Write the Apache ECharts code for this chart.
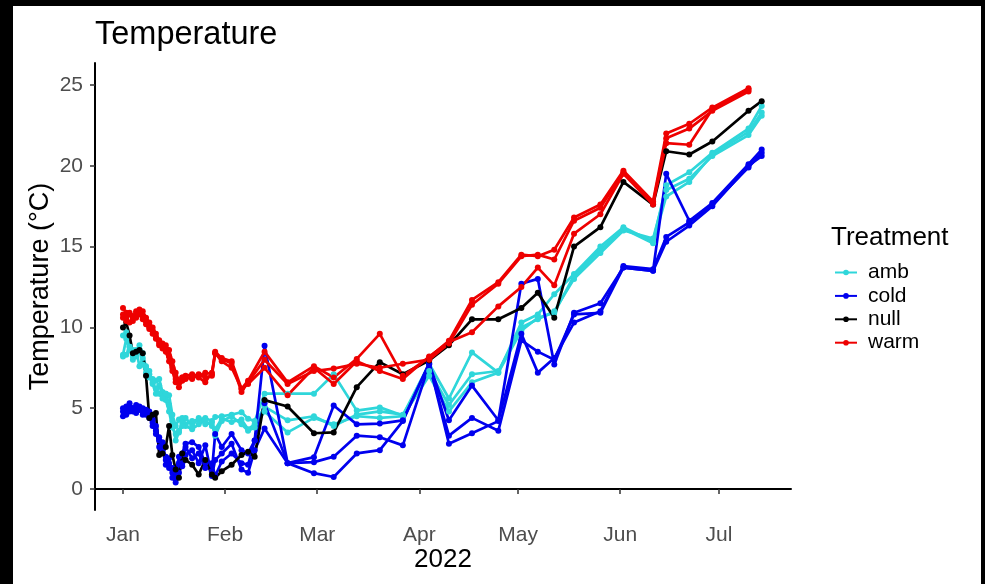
<!DOCTYPE html>
<html>
<head>
<meta charset="utf-8">
<script src="https://cdn.jsdelivr.net/npm/echarts@6/dist/echarts.min.js"></script>
<style>
  html, body { margin: 0; padding: 0; background: #000; }
  #panel { position: absolute; left: 13px; top: 6px; width: 968px; height: 578px; background: #fff; }
  #chart { position: absolute; left: 0; top: 0; width: 985px; height: 584px; }
</style>
</head>
<body>
<div id="panel"></div>
<div id="chart"></div>
<script>
// Sampling dates (daily logging in early January, then roughly weekly)
const dates = [
  '2022-01-01','2022-01-02','2022-01-03','2022-01-04','2022-01-05','2022-01-06','2022-01-07','2022-01-08','2022-01-09','2022-01-10',
  '2022-01-11','2022-01-12','2022-01-13','2022-01-14','2022-01-15','2022-01-16','2022-01-17','2022-01-18','2022-01-19','2022-01-20',
  '2022-01-22','2022-01-24','2022-01-26','2022-01-28','2022-01-29','2022-01-31','2022-02-03','2022-02-06','2022-02-08','2022-02-10',
  '2022-02-13','2022-02-20','2022-02-28','2022-03-06','2022-03-13','2022-03-20','2022-03-27','2022-04-04','2022-04-10','2022-04-17',
  '2022-04-25','2022-05-02','2022-05-07','2022-05-12','2022-05-18','2022-05-26','2022-06-02','2022-06-11','2022-06-15','2022-06-22',
  '2022-06-29','2022-07-10','2022-07-14'
];

// Temperature (°C) per replicate
const amb1 = [9.5,9.7,8.8,8.6,8.5,8.9,8.4,7.5,7.1,6.8, 6.7,6.8,6.0,5.9,5.8,4.6,3.9,4.3,4.4,4.0,
  4.2,4.3,4.4,4.2,4.45,4.5,4.6,4.75,4.35,4.2,
  5.9,5.9,5.9,7.1,4.85,5.05,4.55,7.75,5.6,8.45, 7.2,10.3,10.8,12.05,13.3,15.0,16.2,15.3,18.8,19.6, 20.8,22.3,23.7];
const amb2 = [8.3,9.3,8.6,8.2,8.6,7.6,8.1,7.6,7.3,6.5, 5.9,6.4,5.8,5.5,4.8,3.8,3.4,3.6,4.1,3.9,
  3.7,4.0,4.25,3.9,3.7,4.35,4.15,4.3,3.7,4.0,
  5.1,4.25,4.5,3.9,4.6,4.8,4.6,7.3,5.2,7.1, 7.3,10.0,10.5,11.0,13.0,14.6,16.0,15.5,18.5,19.2, 20.6,21.9,23.1];
const amb3 = [8.2,8.3,8.8,8.0,8.2,8.6,7.7,7.2,6.9,6.6, 6.2,5.9,5.6,5.9,5.2,4.2,3.0,3.5,3.9,4.4,
  3.9,4.4,4.0,4.1,3.3,4.2,4.5,4.0,3.6,3.8,
  4.8,3.5,4.4,4.0,4.5,4.4,4.5,7.0,4.8,6.6, 7.2,9.8,10.6,10.9,13.2,14.8,16.1,15.2,18.1,19.0, 20.7,22.1,23.3];

const cold1 = [4.8,5.1,5.3,5.0,4.9,5.1,5.0,4.7,4.8,4.1, 3.9,3.0,2.7,1.8,1.6,1.3,0.6,1.6,2.2,2.8,
  2.9,2.6,1.6,1.1,3.4,2.6,3.4,2.4,2.2,3.0,
  8.86,1.6,1.97,5.17,4.0,4.05,4.25,7.75,4.25,6.4, 4.25,12.7,13.0,7.7,10.9,11.5,13.7,13.5,19.5,16.6, 17.7,20.1,21.0];
const cold2 = [4.5,4.9,4.8,5.0,4.7,4.9,4.8,4.6,4.4,4.3, 3.4,3.2,2.4,2.0,1.3,1.0,0.4,1.0,1.6,2.1,
  2.4,1.6,2.7,0.8,1.8,2.2,2.8,1.2,1.0,2.4,
  3.75,1.6,1.66,2.0,3.3,3.2,2.7,7.7,3.3,4.4, 3.6,9.2,8.5,8.0,10.8,10.9,13.7,13.5,15.3,16.3, 17.5,20.0,20.6];
const cold3 = [5.0,4.6,5.0,4.8,5.2,4.9,4.6,4.9,4.5,3.9, 3.6,2.6,2.9,1.5,1.9,0.7,1.0,2.0,1.4,2.6,
  1.9,2.2,1.3,1.6,0.8,1.7,2.2,1.6,1.5,3.0,
  5.3,1.6,0.98,0.74,2.2,2.4,4.2,7.8,2.8,3.45, 4.2,9.6,7.2,8.1,10.3,11.0,13.8,13.6,15.6,16.5, 17.6,19.9,20.8];

const null1 = [10.0,10.3,9.5,8.4,8.5,8.6,8.4,7.0,4.4,4.6, 4.7,2.1,2.2,2.6,3.9,2.1,1.2,0.7,2.2,1.8,
  1.5,0.9,1.8,0.9,0.7,1.1,1.5,2.1,2.3,2.0,
  5.5,5.1,3.45,3.5,6.3,7.85,7.1,7.95,8.9,10.5, 10.5,11.2,12.15,10.6,15.0,16.2,19.0,17.6,20.9,20.7, 21.5,23.4,24.0];

const warm1 = [11.2,10.9,10.8,10.6,10.9,11.1,11.0,10.6,10.3,10.0, 9.6,9.2,9.0,8.9,8.6,7.9,7.2,6.7,6.9,7.0,
  7.1,7.0,7.2,7.1,8.5,8.1,7.9,6.2,6.7,null,
  8.5,6.6,7.6,6.9,8.05,9.6,7.0,8.15,9.17,11.7, 12.8,14.5,14.4,14.8,16.8,17.6,19.7,17.8,22.0,22.6, 23.6,24.8,null];
const warm2 = [10.8,10.6,10.9,10.4,11.0,10.8,10.7,10.4,10.0,9.8, 9.4,9.0,8.8,8.6,8.2,7.5,6.8,6.3,6.7,6.9,
  6.8,7.1,6.9,7.0,8.4,8.0,7.8,6.0,6.6,null,
  8.0,6.5,7.3,7.45,7.75,7.5,7.75,8.0,9.0,11.4, 12.7,14.4,14.5,14.2,16.6,17.4,19.6,17.7,21.7,22.3, 23.4,24.6,null];
const warm3 = [10.6,10.4,10.3,10.7,10.6,10.9,10.5,10.2,9.9,9.6, 9.3,8.9,8.7,8.5,7.9,7.3,6.6,6.6,6.9,6.8,
  7.0,6.9,6.6,7.2,8.4,7.9,7.5,6.2,6.5,null,
  7.5,5.8,7.5,6.5,7.9,7.3,6.8,8.2,9.1,9.7, 11.3,12.5,13.7,12.6,15.8,17.0,19.5,17.6,21.4,21.3, 23.5,24.7,null];

// Axis ticks
const monthTicks = ['2022-01-01','2022-02-01','2022-03-01','2022-04-01','2022-05-01','2022-06-01','2022-07-01'];
const monthLabels = ['Jan','Feb','Mar','Apr','May','Jun','Jul'];
const tempTicks = [0, 5, 10, 15, 20, 25];

const treatments = ['amb', 'cold', 'null', 'warm'];
const treatmentColors = { amb: '#2fd6da', cold: '#0000ee', null: '#000000', warm: '#ee0000' };
const replicates = [
  ['amb', amb1], ['amb', amb2], ['amb', amb3],
  ['cold', cold1], ['cold', cold2], ['cold', cold3],
  ['null', null1],
  ['warm', warm1], ['warm', warm2], ['warm', warm3]
];

function ts(s) {
  const p = s.split('-').map(Number);
  return new Date(p[0], p[1] - 1, p[2]).getTime();
}
const DAY = 86400000;
const xMin = ts('2022-01-01') - 8.5 * DAY;
const xMax = ts('2022-01-01') + 202.9 * DAY;
const monthTickValues = monthTicks.map(ts);

const FONT = '"Liberation Sans", Arial, sans-serif';

const series = replicates.map(([name, vals]) => ({
  type: 'line',
  name: name,
  data: dates.map((d, i) => [ts(d), vals[i]]).filter(p => p[1] !== null),
  color: treatmentColors[name],
  lineStyle: { width: 2.7, color: treatmentColors[name] },
  itemStyle: { color: treatmentColors[name] },
  symbol: 'circle',
  symbolSize: 6,
  showSymbol: true,
  showAllSymbol: true,
  animation: false,
  emphasis: { disabled: true },
  silent: true
}));

const chart = echarts.init(document.getElementById('chart'), null, { renderer: 'canvas' });
chart.setOption({
  backgroundColor: 'transparent',
  animation: false,
  textStyle: { fontFamily: FONT },
  title: [
    { text: 'Temperature', left: 90, top: 14,
      textStyle: { fontSize: 32.5, fontWeight: 'normal', color: '#000', fontFamily: FONT } },
    { text: 'Treatment', left: 826, top: 220,
      textStyle: { fontSize: 26, fontWeight: 'normal', color: '#000', fontFamily: FONT } }
  ],
  legend: {
    data: treatments,
    orient: 'vertical',
    left: 829,
    top: 257,
    itemWidth: 22,
    itemHeight: 7,
    itemGap: 2.4,
    textStyle: { fontSize: 21, color: '#000', fontFamily: FONT, padding: [0, 0, 0, 6] },
    selectedMode: false
  },
  grid: { left: 95, right: 194, top: 63, bottom: 74, containLabel: false },
  xAxis: {
    type: 'value',
    min: xMin,
    max: xMax,
    name: '2022',
    nameLocation: 'middle',
    nameGap: 37,
    nameMoveOverlap: false,
    nameTextStyle: { fontSize: 26, color: '#000', fontFamily: FONT },
    axisLine: { show: true, lineStyle: { color: '#000', width: 2 } },
    axisTick: { show: true, length: 5, lineStyle: { color: '#333', width: 1.5 },
      customValues: monthTickValues },
    axisLabel: { fontSize: 21, color: '#4d4d4d', margin: 15, fontFamily: FONT,
      customValues: monthTickValues,
      formatter: v => monthLabels[monthTickValues.indexOf(v)] },
    splitLine: { show: false }
  },
  yAxis: {
    type: 'value',
    min: -1.3,
    max: 26.36,
    name: 'Temperature (°C)',
    nameLocation: 'middle',
    nameRotate: 90,
    nameGap: 41,
    nameMoveOverlap: false,
    nameTextStyle: { fontSize: 27, color: '#000', fontFamily: FONT },
    axisLine: { show: true, lineStyle: { color: '#000', width: 2 } },
    axisTick: { show: true, length: 5, lineStyle: { color: '#333', width: 1.5 },
      customValues: tempTicks },
    axisLabel: { fontSize: 21, color: '#4d4d4d', margin: 12, fontFamily: FONT,
      customValues: tempTicks },
    splitLine: { show: false }
  },
  series: series
});
</script>
</body>
</html>
